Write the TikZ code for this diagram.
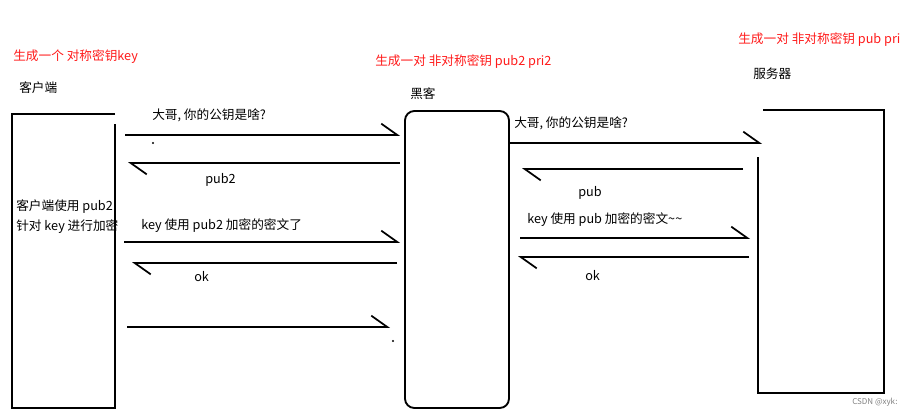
\documentclass[tikz,border=0pt]{standalone}
\usepackage{fontspec}
\setmainfont{Noto Sans CJK SC}
\usepackage{xcolor}
\definecolor{note}{HTML}{FF1A1A}
\usetikzlibrary{arrows.meta, positioning, calc}

\begin{document}
\begin{tikzpicture}[x=0.75pt, y=-0.75pt, font=\fontsize{9.5}{11}\selectfont,
  box/.style={inner sep=0pt, outer sep=0pt},
  edge/.style={line width=1.4pt},
  msg/.style={line width=1.3pt, -{Straight Barb[harpoon, length=12pt, width=17pt]}},
  lbl/.style={anchor=west, inner sep=0pt},
  note/.style={lbl, text=note}]

  \useasboundingbox (0,0) rectangle (920,418);

  % Kopfzeilen
  \node[note] (keynote) at (13,57) {生成一个 对称密钥key};
  \node[lbl]  (clientname) at (19,88) {客户端};
  \node[note] (hacknote) at (375,62) {生成一对 非对称密钥 pub2 pri2};
  \node[lbl]  (hackname) at (410,94) {黑客};
  \node[note] (servnote) at (738,40) {生成一对 非对称密钥 pub pri};
  \node[lbl]  (servname) at (753,74) {服务器};

  % Kästen
  \node[box, minimum width=77.25pt, minimum height=220.5pt] (client) at (63.5,261) {};
  \draw[edge] (client.north east) -- (client.north west) -- (client.south west)
    -- (client.south east) -- ($(client.north east)+(0,10)$);
  \node[box, draw, edge, rounded corners=7pt, minimum width=78pt, minimum height=222.75pt] (hacker) at (457,259.5) {};
  \node[box, minimum width=94.5pt, minimum height=212.25pt] (server) at (821,251.5) {};
  \draw[edge] ($(server.north west)+(5,0)$) -- (server.north east) -- (server.south east)
    -- (server.south west) -- ($(server.north west)+(0,47)$);

  % Client <-> Hacker
  \draw[msg, shorten <=7.5pt, shorten >=3.75pt] (client.east |- 0,135) -- (hacker.west |- 0,135);
  \draw[msg, shorten <=3.75pt, shorten >=9.75pt] (hacker.west |- 0,163) -- (client.east |- 0,163);
  \draw[msg, shorten <=6.75pt, shorten >=3.75pt] (client.east |- 0,242) -- (hacker.west |- 0,242);
  \draw[msg, shorten <=6pt, shorten >=12.75pt] (hacker.west |- 0,263) -- (client.east |- 0,263);
  \draw[msg, shorten <=9pt, shorten >=11.25pt] (client.east |- 0,327) -- (hacker.west |- 0,327);

  \node[lbl] (ask1) at (152,115) {大哥, 你的公钥是啥?};
  \fill (153,143) circle (1.2);
  \node[lbl] (pubtwo) at (205,180) {pub2};
  \node[lbl] (encA) at (16,207) {客户端使用 pub2};
  \node[lbl] (encB) at (16,227) {针对 key 进行加密};
  \node[lbl] (send1) at (141,226) {key 使用 pub2 加密的密文了};
  \node[lbl] (ok1) at (194,277) {ok};
  \fill (393,341) circle (1.2);

  % Hacker <-> Server
  \draw[msg, shorten >=-3pt] (hacker.east |- 0,143) -- (server.west |- 0,143);
  \draw[msg, shorten <=11.25pt, shorten >=9.75pt] (server.west |- 0,169) -- (hacker.east |- 0,169);
  \draw[msg, shorten <=8.25pt, shorten >=6pt] (hacker.east |- 0,238) -- (server.west |- 0,238);
  \draw[msg, shorten <=6.75pt, shorten >=6.75pt] (server.west |- 0,257) -- (hacker.east |- 0,257);

  \node[lbl] (ask2) at (514,123) {大哥, 你的公钥是啥?};
  \node[lbl] (pubone) at (578,193) {pub};
  \node[lbl] (send2) at (527,220) {key 使用 pub 加密的密文\textasciitilde\textasciitilde};
  \node[lbl] (ok2) at (585,276) {ok};

  \node[lbl, font=\fontsize{6}{7}\selectfont, text=gray] (mark) at (852,402) {CSDN @xyk:};

\end{tikzpicture}
\end{document}
